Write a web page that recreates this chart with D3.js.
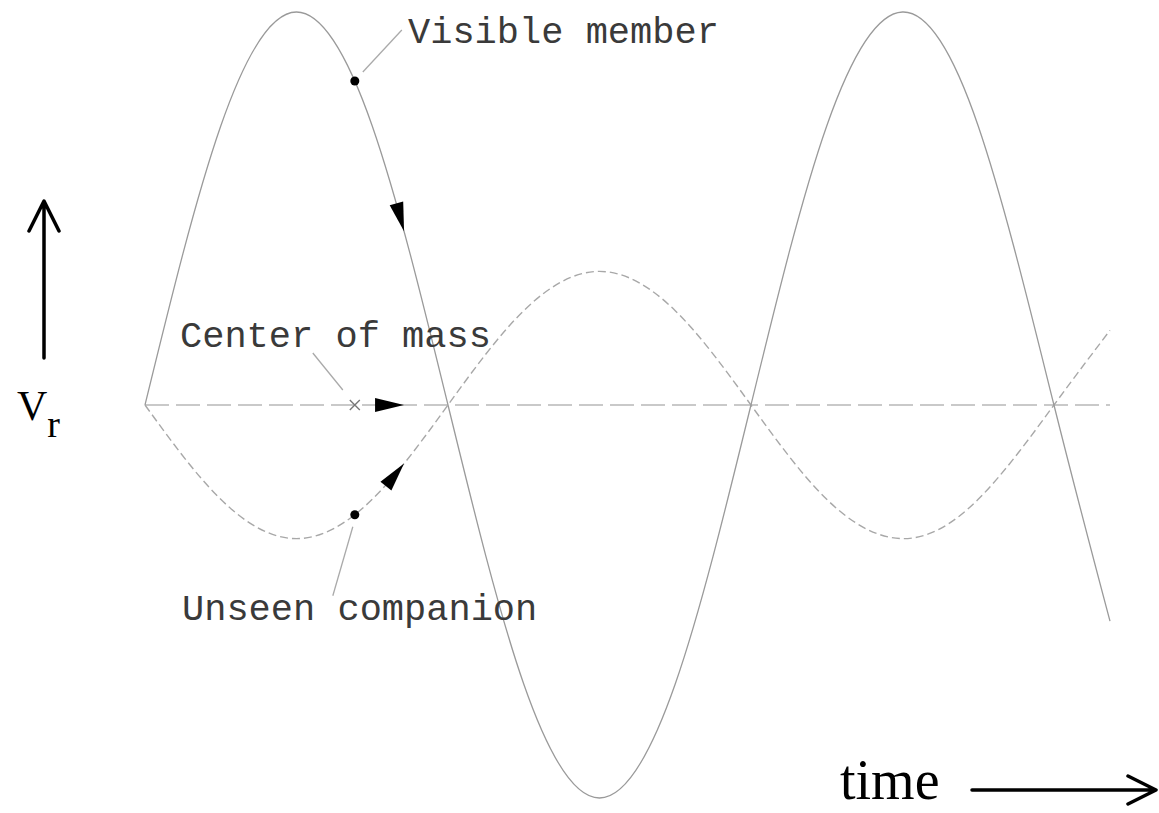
<!DOCTYPE html>
<html>
<head>
<meta charset="utf-8">
<script src="https://cdn.jsdelivr.net/npm/d3@7"></script>
<style>
  html, body { margin: 0; padding: 0; background: #fff; }
  svg { display: block; }
</style>
</head>
<body>
<div id="chart"></div>
<script>
// Radial velocity of a binary: visible member vs unseen companion.

const times     = [0, 1, 2, 3, 4, 5, 6, 7, 8, 9, 10, 11, 12, 12.74];
const visible   = [0, 0.71, 1, 0.71, 0, -0.71, -1, -0.71, 0, 0.71, 1, 0.71, 0, -0.55];
const companion = [0, -0.24, -0.34, -0.24, 0, 0.24, 0.34, 0.24, 0, -0.24, -0.34, -0.24, 0, 0.19];
const centerOfMass = [0, 0];
const centerTimes  = [0, 12.74];

const markerT = 2.77;   // dots / cross
const arrowT  = 3.42;   // arrow tips

const labels = ['Visible member', 'Center of mass', 'Unseen companion'];
const axisLabels = { y: 'V', ySub: 'r', x: 'time' };

const W = 1159, H = 813;
const svg = d3.select('#chart').append('svg').attr('width', W).attr('height', H);

const x = d3.scaleLinear().domain([0, 12.74]).range([145, 1110]);
const y = d3.scaleLinear().domain([-1, 1]).range([798, 12]);

const line = d3.line()
  .x(d => x(d[0])).y(d => y(d[1]))
  .curve(d3.curveNatural);

const pCenter = svg.append('path')
  .attr('d', line(centerTimes.map((t, i) => [t, centerOfMass[i]])))
  .attr('fill', 'none').attr('stroke', '#b8b8b8').attr('stroke-width', 1.4)
  .attr('stroke-dasharray', '24,7');

const pComp = svg.append('path')
  .attr('d', line(times.map((t, i) => [t, companion[i]])))
  .attr('fill', 'none').attr('stroke', '#a8a8a8').attr('stroke-width', 1.4)
  .attr('stroke-dasharray', '8,4');

const pVis = svg.append('path')
  .attr('d', line(times.map((t, i) => [t, visible[i]])))
  .attr('fill', 'none').attr('stroke', '#9a9a9a').attr('stroke-width', 1.3);

// find point on a drawn path at a given time (x), plus tangent angle
function pointAt(path, t) {
  const node = path.node(), len = node.getTotalLength(), tx = x(t);
  let lo = 0, hi = len;
  for (let k = 0; k < 40; k++) {
    const mid = (lo + hi) / 2;
    if (node.getPointAtLength(mid).x < tx) lo = mid; else hi = mid;
  }
  const p = node.getPointAtLength(lo);
  const q = node.getPointAtLength(Math.min(len, lo + 1));
  return { x: p.x, y: p.y, a: Math.atan2(q.y - p.y, q.x - p.x) };
}

// arrows along each curve
[pVis, pCenter, pComp].forEach(p => {
  const pt = pointAt(p, arrowT);
  svg.append('path')
    .attr('d', 'M0,0 L-29,-7 L-29,7 Z')
    .attr('fill', '#000')
    .attr('transform', `translate(${pt.x},${pt.y}) rotate(${pt.a * 180 / Math.PI})`);
});

// dots + cross
const dv = pointAt(pVis, markerT), dc = pointAt(pComp, markerT), dm = pointAt(pCenter, markerT);
svg.selectAll('circle.dot').data([dv, dc]).join('circle')
  .attr('class', 'dot').attr('cx', d => d.x).attr('cy', d => d.y).attr('r', 4.5).attr('fill', '#000');
svg.append('path')
  .attr('d', `M${dm.x - 5},${dm.y - 5}L${dm.x + 5},${dm.y + 5}M${dm.x - 5},${dm.y + 5}L${dm.x + 5},${dm.y - 5}`)
  .attr('stroke', '#777').attr('stroke-width', 1.4);

// leaders
const leaders = [
  [dv.x + 8, dv.y - 9, dv.x + 47, dv.y - 51],
  [dm.x - 12, dm.y - 15, dm.x - 42, dm.y - 52],
  [dc.x - 2, dc.y + 12, dc.x - 22, dc.y + 81]
];
svg.selectAll('line.leader').data(leaders).join('line')
  .attr('class', 'leader')
  .attr('x1', d => d[0]).attr('y1', d => d[1]).attr('x2', d => d[2]).attr('y2', d => d[3])
  .attr('stroke', '#aaa').attr('stroke-width', 1.3);

const mono = '"Courier New", "Liberation Mono", monospace';
const labelPos = [[408, 43], [180, 347], [182, 620]];
svg.selectAll('text.lbl').data(labels).join('text')
  .attr('class', 'lbl')
  .attr('x', (d, i) => labelPos[i][0]).attr('y', (d, i) => labelPos[i][1])
  .attr('font-family', mono).attr('font-size', 37).attr('fill', '#3a3a3a')
  .text(d => d);

// axis arrows
const serif = '"Liberation Serif", "Times New Roman", serif';
svg.append('path')
  .attr('d', 'M44,358 L44,202 M29,231 L44,201 L59,231')
  .attr('fill', 'none').attr('stroke', '#000').attr('stroke-width', 3.5)
  .attr('stroke-linecap', 'round').attr('stroke-linejoin', 'round');
const vt = svg.append('text').attr('x', 17).attr('y', 420)
  .attr('font-family', serif).attr('font-size', 42).attr('fill', '#000');
vt.append('tspan').text(axisLabels.y);
vt.append('tspan').attr('dy', 17).attr('font-size', 38).text(axisLabels.ySub);

svg.append('text').attr('x', 840).attr('y', 799)
  .attr('font-family', serif).attr('font-size', 56).attr('fill', '#000')
  .text(axisLabels.x);
svg.append('path')
  .attr('d', 'M972,790 L1155,790 M1128,776 L1156,790 L1128,804')
  .attr('fill', 'none').attr('stroke', '#000').attr('stroke-width', 3.5)
  .attr('stroke-linecap', 'round').attr('stroke-linejoin', 'round');
</script>
</body>
</html>
